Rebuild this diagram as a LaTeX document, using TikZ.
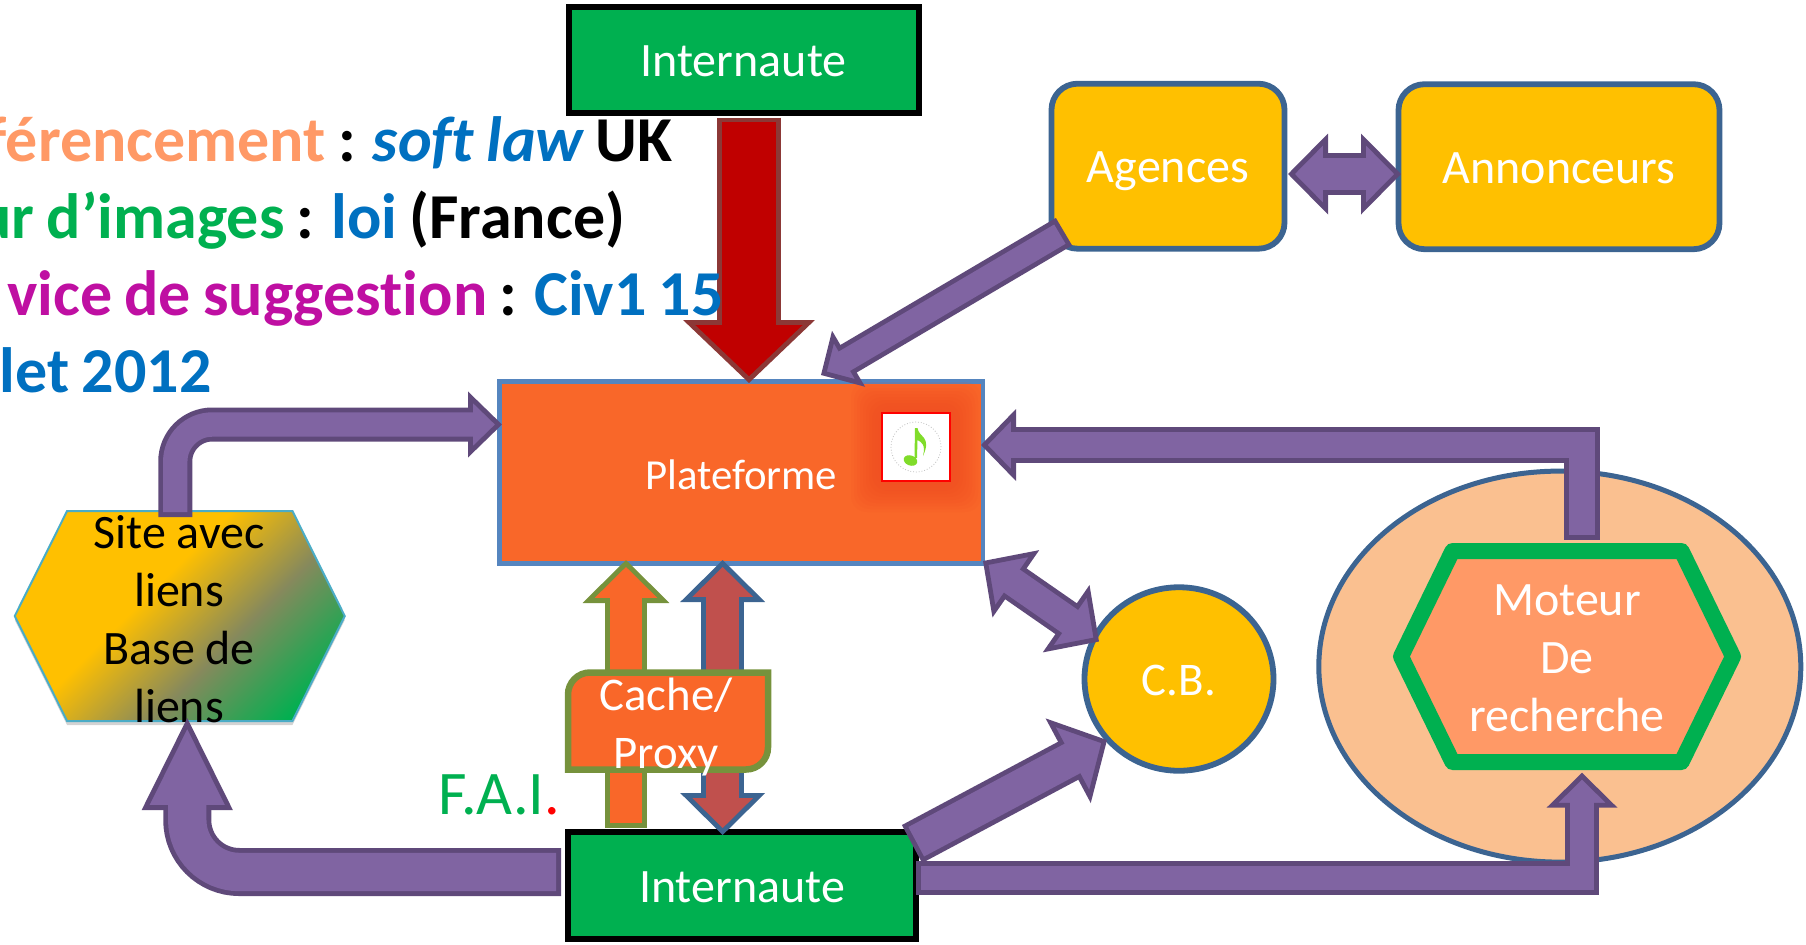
\documentclass[tikz,border=0pt]{standalone}
\usepackage{fontspec}
\setmainfont{Carlito}[Ligatures=NoCommon]
\usepackage{color}
\usetikzlibrary{arrows.meta}
\usetikzlibrary{shapes.geometric,shapes.symbols}
\usetikzlibrary{shadows}
\definecolor{userGreen}{HTML}{00B050}
\definecolor{gold}{HTML}{FFC000}
\definecolor{boxOrange}{HTML}{F96729}
\definecolor{glowRed}{HTML}{F14A22}
\definecolor{steel}{HTML}{3C6491}
\definecolor{platEdge}{HTML}{5585BF}
\definecolor{siteEdge}{HTML}{4BACC6}
\definecolor{olive}{HTML}{76923C}
\definecolor{peach}{HTML}{FAC090}
\definecolor{salmon}{HTML}{FF9966}
\definecolor{violet}{HTML}{8064A2}
\definecolor{violetEdge}{HTML}{5F497A}
\definecolor{deepRed}{HTML}{C00000}
\definecolor{redEdge}{HTML}{8C3836}
\definecolor{brick}{HTML}{C0504D}
\definecolor{lawBlue}{HTML}{0070C0}
\definecolor{magenta2}{HTML}{BF0FA2}
\definecolor{noteGreen}{HTML}{80DC2A}
\definecolor{siteMid}{HTML}{86895C}
\pgfdeclarehorizontalshading{sitefade}{100bp}{color(0bp)=(gold); color(43bp)=(gold); color(60bp)=(siteMid); color(78bp)=(userGreen); color(84bp)=(userGreen); color(100bp)=(userGreen!50!white)}
\tikzset{
  boxlabel/.style={text=white,font=\fontsize{24}{29}\selectfont,align=center,inner sep=0pt,outer sep=0pt},
  onelabel/.style={boxlabel,text height=20.5pt,text depth=4pt},
  lawline/.style={anchor=base east,inner sep=0pt,font=\fontsize{32}{38}\bfseries\selectfont,execute at begin node={\spaceskip=6.1pt\relax}},
  userbox/.style={draw=black,fill=userGreen,line width=3pt,minimum width=174pt,minimum height=53pt,onelabel},
  roundbox/.style={draw=steel,fill=gold,line width=2.9pt,rounded corners=13pt,minimum height=82.5pt,onelabel},
  fatarrow/.style n args={5}{line width=#1,draw=#5,-{Triangle[length=#2,width=#3,fill=#4,color=#5,line width=2.4pt]},
    postaction={draw=#4,-,line width=#1-4.8pt,shorten >=#2-3pt,shorten <=2.4pt}},
  fatboth/.style n args={5}{line width=#1,draw=#5,{Triangle[length=#2,width=#3,fill=#4,color=#5,line width=2.4pt]}-{Triangle[length=#2,width=#3,fill=#4,color=#5,line width=2.4pt]},
    postaction={draw=#4,-,line width=#1-4.8pt,shorten >=#2-3pt,shorten <=#2-3pt}}
}
\begin{document}
\begin{tikzpicture}[x=0.5pt,y=-0.5pt,line join=miter]
\useasboundingbox (0,0) rectangle (1806,944);
% ovale et moteur
\node (engineoval) [ellipse,draw=steel,fill=peach,line width=2.5pt,inner sep=0pt,minimum width=241pt,minimum height=195.5pt] at (1559.8,666.6) {};
\node (engine) [signal,signal to=east and west,signal pointer angle=128,draw=userGreen,fill=salmon,line width=8pt,line join=round,inner sep=0pt,outer sep=0pt,minimum width=166pt,minimum height=105.5pt] at (1567,656.5) {};
\node (enginetext) [boxlabel] at (1567,658.5) {Moteur\\De\\recherche};
% site
\node (site) [signal,signal to=east and west,signal pointer angle=127,draw=siteEdge,shading=sitefade,shading angle=-45,line width=1pt,inner sep=0pt,outer sep=0pt,minimum width=165pt,minimum height=105pt,drop shadow={shadow xshift=0pt,shadow yshift=-2pt,opacity=.35}] at (179.75,616) {};
\node (sitetext) [boxlabel,text=black] at (179,619.3) {Site avec\\liens\\Base de\\liens};
% plateforme
\node (platform) [draw=platEdge,fill=boxOrange,line width=2.4pt,minimum width=241.75pt,minimum height=91pt,onelabel,font=\fontsize{21.4}{27}\selectfont] at (741.25,472.5) {Plateforme};
\foreach \g in {3,6,...,30}
  \fill[glowRed,opacity=.1,rounded corners=8pt] (881-\g,412-\g) rectangle (951+\g,482+\g);
\node (icon) [draw=red,fill=white,line width=1pt,minimum width=34pt,minimum height=34pt,inner sep=0pt] at (916,447) {};
\draw[gray!50,densely dotted,line width=.4pt] (icon.center) circle (12.5pt);
\fill[noteGreen,rotate around={-20:(910.5,460.5)}] (910.5,460.5) ellipse [x radius=7,y radius=5];
\fill[noteGreen] (914.5,458) -- (915,428) -- (917.5,428) .. controls (919,438) and (932,436) .. (923,456) .. controls (926,444) and (921,442) .. (917.5,440) -- (917,458) -- cycle;
% boites
\node (topuser) [userbox,minimum width=175pt] at (743.5,59.5) {Internaute};
\node (botuser) [userbox,minimum height=53.5pt] at (742,885.5) {Internaute};
\node (agences) [roundbox,minimum width=116.5pt] at (1168,166.2) {Agences};
\node (annonceurs) [roundbox,minimum width=160.5pt] at (1559,166.7) {Annonceurs};
\node (cb) [ellipse,draw=steel,fill=gold,line width=2.9pt,minimum width=94.5pt,minimum height=91.75pt,onelabel,font=\fontsize{23.4}{29}\selectfont] at (1179,679) {C.B.};
% fleches
\draw[fatarrow={32pt}{31.5pt}{65.5pt}{deepRed}{redEdge}] ([shift={(5.5,5)}]topuser.south) -- ([shift={(7.75,1.5)}]platform.north);
\draw[fatarrow={16pt}{16pt}{32pt}{violet}{violetEdge}] ([shift={(12.5,-17)}]agences.south west) -- ([shift={(79.75,-6.5)}]platform.north);
\draw[fatarrow={17pt}{17pt}{32.5pt}{violet}{violetEdge},rounded corners=18.5pt] ([shift={(-4.5,6)}]site.north) |- ([shift={(2.5,-48)}]platform.west);
\draw[fatarrow={24pt}{46pt}{45pt}{violet}{violetEdge},rounded corners=26pt] ([shift={(-7,-13.5)}]botuser.west) -| ([shift={(7.5,-3)}]site.south);
\draw[fatarrow={21pt}{21.5pt}{43pt}{boxOrange}{olive}] ([shift={(-116,-4)}]botuser.north) -- ([shift={(-115.25,-3.5)}]platform.south);
\draw[fatboth={21.5pt}{21pt}{42pt}{brick}{steel}] ([shift={(-19.3,3)}]botuser.north) -- ([shift={(-18.55,-3.5)}]platform.south);
\draw[fatboth={18.75pt}{20pt}{40.5pt}{violet}{violetEdge}] ([shift={(0,-2.5)}]platform.south east) -- ([shift={(14.5,-37.5)}]cb.west);
\draw[fatarrow={21.5pt}{22pt}{47.5pt}{violet}{violetEdge}] ([shift={(-4,12)}]botuser.north east) -- ([shift={(22.5,61)}]cb.west);
\draw[fatarrow={17pt}{17.5pt}{35pt}{violet}{violetEdge}] ([shift={(0,-7.5)}]botuser.east) -| ([shift={(15,10.7)}]engine.south);
\draw[fatarrow={17.75pt}{17.5pt}{35.5pt}{violet}{violetEdge}] ([shift={(15,-11.4)}]engine.north) |- ([shift={(-2,-27.5)}]platform.east);
\draw[fatboth={21pt}{20pt}{40pt}{violet}{violetEdge}] ([shift={(3.5,7.8)}]agences.east) -- ([shift={(2.5,7.3)}]annonceurs.west);
% cache
\node (cache) [inner sep=0pt,outer sep=0pt,minimum width=100pt,minimum height=48.5pt] at (668,721) {};
\draw[draw=olive,fill=boxOrange,line width=3.25pt] (cache.west) [rounded corners=11pt] -- (cache.north west) [sharp corners] -- (cache.north) -- (cache.north east) -- (cache.east) [rounded corners=11pt] -- (cache.south east) [sharp corners] -- (cache.south) -- (cache.south west) -- cycle;
\node (cachetext) [boxlabel,font=\fontsize{23.4}{29}\selectfont] at (666,726.7) {Cache/\\Proxy};
\node (fai) [anchor=base west,inner sep=0pt,font=\fontsize{31}{36}\selectfont,text=userGreen] at (438,814) {F.A.I\textcolor{red}{.}};
% texte
\node (lawa) [lawline] at (673,161) {\textcolor{salmon}{férencement} : \textcolor{lawBlue}{\itshape soft law} UK};
\node (lawb) [lawline] at (625.5,238) {\textcolor{userGreen}{ur d’images} : \textcolor{lawBlue}{loi} (France)};
\node (lawc) [lawline] at (724,315) {\textcolor{magenta2}{vice de suggestion} : \textcolor{lawBlue}{Civ1 15}};
\node (lawd) [lawline,text=lawBlue] at (212,392) {let 2012};
\end{tikzpicture}
\end{document}
